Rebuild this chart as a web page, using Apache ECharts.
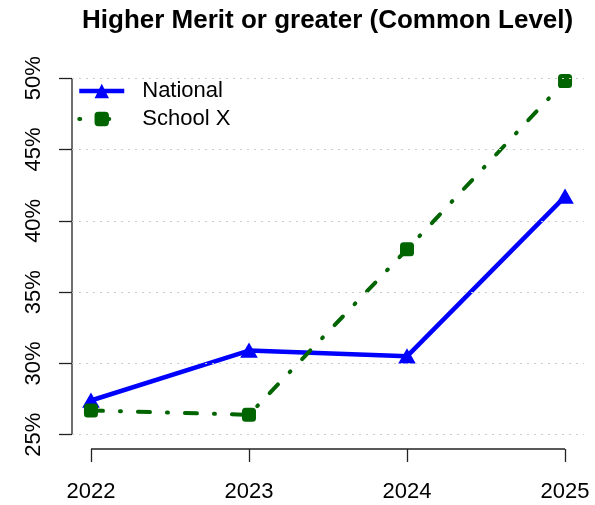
<!DOCTYPE html>
<html>
<head>
<meta charset="utf-8">
<script src="https://cdn.jsdelivr.net/npm/echarts@6.0.0/dist/echarts.min.js"></script>
<style>
html, body { margin: 0; padding: 0; background: #fff; }
#chart { width: 595px; height: 505px; }
</style>
</head>
<body>
<div id="chart"></div>
<script>
var years = [2022, 2023, 2024, 2025];
var national = [27.4, 30.9, 30.5, 41.7];
var schoolX = [26.7, 26.4, 38.0, 49.8];
var yTicks = [25, 30, 35, 40, 45, 50];

var font = 'Liberation Sans, Arial, Helvetica, sans-serif';
var blue = '#0000ff', green = '#006400';
var greenDash = [12, 17, 1, 17];

function pairs(vals) {
    return vals.map(function (v, i) { return [years[i], v]; });
}

var chart = echarts.init(document.getElementById('chart'));
var option = {
    animation: false,
    title: {
        text: 'Higher Merit or greater (Common Level)',
        left: 82,
        top: 8,
        padding: 0,
        textStyle: { fontFamily: font, fontSize: 26, fontWeight: 'bold', color: '#000' }
    },
    legend: {
        orient: 'vertical',
        left: 77,
        top: 80,
        padding: 0,
        itemWidth: 45,
        itemHeight: 18,
        itemGap: 6,
        textStyle: { fontFamily: font, fontSize: 22, color: '#000', padding: [0, 0, 0, 13] },
        data: [
            { name: 'National', lineStyle: { width: 4.5 }, itemStyle: { borderWidth: 0 } },
            { name: 'School X', lineStyle: { width: 4, type: [1, 17, 12, 17] }, itemStyle: { borderWidth: 0 } }
        ]
    },
    grid: { left: 72, right: 11, top: 64, bottom: 56 },
    xAxis: {
        type: 'value',
        min: 2021.88,
        max: 2025.12,
        axisLine: { show: false },
        splitLine: { show: false },
        axisTick: { show: true, customValues: years, length: 13, lineStyle: { color: '#222', width: 1.3 } },
        axisLabel: {
            customValues: years, margin: 32,
            fontFamily: font, fontSize: 22, color: '#000',
            formatter: function (v) { return String(v); }
        }
    },
    yAxis: {
        type: 'value',
        min: 24,
        max: 51,
        axisLine: { show: false },
        splitLine: { show: false },
        axisTick: { show: true, customValues: yTicks, length: 13, lineStyle: { color: '#222', width: 1.3 } },
        axisLabel: {
            customValues: yTicks, rotate: 90, margin: 27,
            fontFamily: font, fontSize: 22, color: '#000',
            formatter: function (v) { return v + '%'; }
        }
    },
    series: [
        {
            name: 'National',
            type: 'line',
            data: pairs(national),
            symbol: 'triangle',
            symbolSize: [15, 13],
            lineStyle: { color: blue, width: 4.5 },
            itemStyle: { color: blue, borderColor: blue, borderWidth: 1.5 },
            markLine: {
                silent: true,
                symbol: ['none', 'none'],
                label: { show: false },
                lineStyle: { color: '#cccccc', type: [2, 5], width: 1.2 },
                data: yTicks.map(function (v) { return { yAxis: v }; })
            }
        },
        {
            name: 'School X',
            type: 'line',
            data: pairs(schoolX),
            symbol: 'roundRect',
            symbolSize: 14,
            lineStyle: { color: green, width: 4, type: greenDash, cap: 'round' },
            itemStyle: { color: green }
        }
    ]
};
chart.setOption(option);

// R-style axis lines that span only the tick range
var yLo = chart.convertToPixel({ gridIndex: 0 }, [2021.88, yTicks[0]]);
var yHi = chart.convertToPixel({ gridIndex: 0 }, [2021.88, yTicks[yTicks.length - 1]]);
var xLo = chart.convertToPixel({ gridIndex: 0 }, [years[0], 24]);
var xHi = chart.convertToPixel({ gridIndex: 0 }, [years[years.length - 1], 24]);
chart.setOption({
    graphic: [
        { type: 'line', shape: { x1: yLo[0], y1: yLo[1], x2: yHi[0], y2: yHi[1] }, style: { stroke: '#222', lineWidth: 1.3 } },
        { type: 'line', shape: { x1: xLo[0], y1: xLo[1], x2: xHi[0], y2: xHi[1] }, style: { stroke: '#222', lineWidth: 1.3 } }
    ]
});
</script>
</body>
</html>
